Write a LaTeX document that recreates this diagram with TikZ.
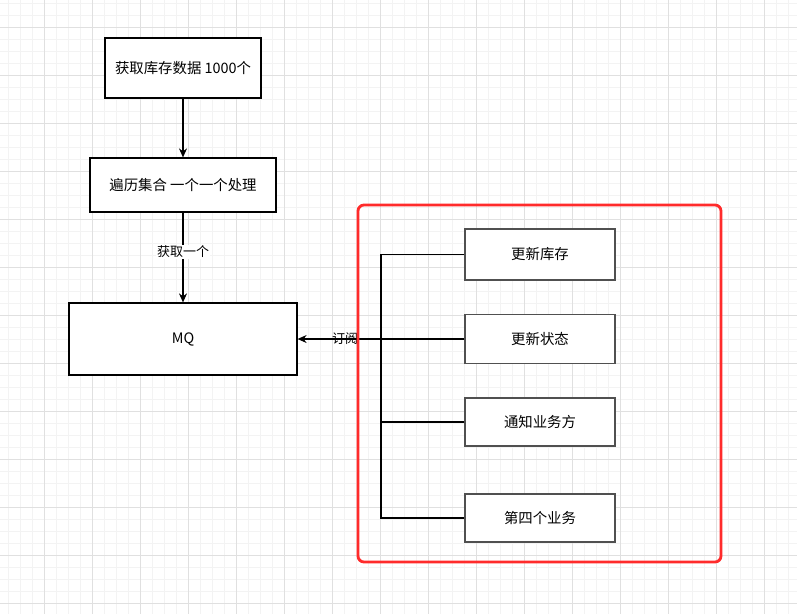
\documentclass[tikz,border=0pt]{standalone}
\usepackage{fontspec}
\setmainfont{Noto Sans CJK SC}
\usetikzlibrary{arrows.meta}
\definecolor{gridminor}{HTML}{F3F3F3}
\definecolor{gridmajor}{HTML}{E0E0E0}
\definecolor{groupred}{HTML}{FF2B2B}
\definecolor{taskgray}{HTML}{505050}
\tikzset{
  stepbox/.style={draw=black, line width=1.2pt, fill=white, font=\fontsize{14.4}{16}\selectfont},
  taskbox/.style={stepbox, draw=taskgray, minimum width=150pt},
  flow/.style={line width=1.2pt, -{Stealth[length=9pt,width=8pt]}},
  lbl/.style={font=\fontsize{13}{15}\selectfont}
}
\begin{document}
\begin{tikzpicture}[x=1pt, y=-1pt]
        \useasboundingbox[fill=white] (0,0) rectangle (797,614);
        % Background grid
        \foreach \x in {8.5,20.5,...,797} \draw[gridminor, line width=0.8pt] (\x,0) -- (\x,614);
        \foreach \y in {3,15,...,614} \draw[gridminor, line width=0.8pt] (0,\y) -- (797,\y);
        \foreach \x in {44.5,92.5,...,797} \draw[gridmajor, line width=0.8pt] (\x,0) -- (\x,614);
        \foreach \y in {27,75,...,614} \draw[gridmajor, line width=0.8pt] (0,\y) -- (797,\y);
        % Left column
        \node[stepbox, minimum width=156pt, minimum height=60pt] (fetch) at (183,68) {获取库存数据 1000个};
        \node[stepbox, minimum width=186pt, minimum height=54pt] (loop) at (183,185) {遍历集合 一个一个处理};
        \node[stepbox, minimum width=228pt, minimum height=72pt] (mq) at (183,339) {MQ};
        \draw[flow] (fetch) -- (loop);
        \draw[flow] (loop) -- (mq) node[lbl, midway, fill=white, inner sep=1pt, yshift=6pt] {获取一个};
        % Subscribers
        \node[taskbox, minimum height=51pt] (stock) at (540,254.5) {更新库存};
        \node[taskbox, minimum height=49pt] (state) at (540,339) {更新状态};
        \node[taskbox, minimum height=48pt] (notify) at (540,422) {通知业务方};
        \node[taskbox, minimum height=48pt] (fourth) at (540,518) {第四个业务};
        \coordinate (bus) at (381,0);
        \draw[line width=1.2pt] (stock.west) -- (stock.west -| bus) -- (fourth.west -| bus) -- (fourth.west);
        \draw[line width=1.2pt] (notify.west) -- (notify.west -| bus);
        \draw[line width=1.2pt] (state.west) -- (state.west -| bus);
        \draw[flow] (state.west -| bus) -- (mq.east) node[lbl, pos=0.43] {订阅};
        % Red group frame
        \draw[groupred, line width=2.8pt, rounded corners=6pt] (358,205) rectangle (721,562);
\end{tikzpicture}
\end{document}
